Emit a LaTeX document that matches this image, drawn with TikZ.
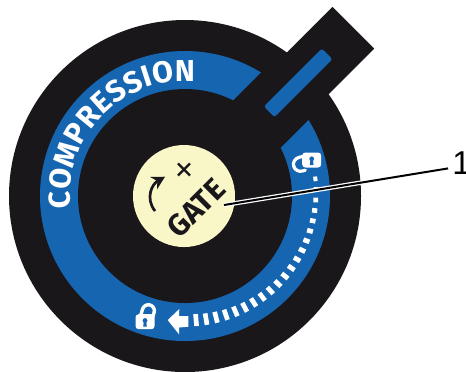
\documentclass[tikz,border=0pt]{standalone}
\usepackage{fontspec}
\setsansfont{Fira Sans}
\setmainfont{Liberation Sans}
\definecolor{dialblack}{RGB}{26,23,27}
\definecolor{dialblue}{RGB}{21,101,176}
\definecolor{dialcream}{RGB}{249,246,200}
\usetikzlibrary{arrows.meta,calc,decorations.text}
\tikzset{
  lockbody/.pic={
    \fill[white,rounded corners=0.9pt] (-0.095,-0.075) rectangle (0.095,0.075);
    \fill[dialblue] (0,0.012) circle (0.024);
    \fill[dialblue] (-0.012,0.01) -- (0.012,0.01) -- (0.018,-0.05) -- (-0.018,-0.05) -- cycle;
  },
  lockclosed/.pic={
    \pic {lockbody};
    \draw[white,line width=0.034cm] (-0.06,0.06) -- (-0.06,0.115) arc (180:0:0.06) -- (0.06,0.06);
  },
  lockopen/.pic={
    \pic {lockbody};
    \draw[white,line width=0.032cm,line cap=round] (0.06,0.06) -- (0.06,0.12) arc (0:180:0.07) -- (-0.08,0.09);
  },
  leadcase/.style={white,line width=0.045cm},
  leadline/.style={black,line width=0.02cm}
}
\begin{document}
\begin{tikzpicture}
  \useasboundingbox (-1.85,-1.75) rectangle (2.81,1.96);
  % Dial
  \fill[dialblack] (0,0) circle (1.76);
  \fill[dialblue] (0,0) circle (1.45);
  \fill[dialblack] (0,0) circle (1.07);
  % Handle
  \begin{scope}[rotate=45]
    \fill[dialblack] (0.5,-0.335) rectangle (1.55,0.335);
    \fill[dialblack] (1.4,-0.295) rectangle (2.38,0.295);
    \fill[dialblue,rounded corners=0.7pt] (1.19,-0.075) rectangle (2.01,0.075);
  \end{scope}
  % Gate
  \fill[dialcream] (-0.01,0) circle (0.51);
  \node[rotate=45,font=\sffamily\bfseries\fontsize{8.6}{9}\selectfont,text=dialblack,inner sep=0pt] (gatetext) at (0.11,-0.12) {GATE};
  \node[rotate=45,font=\fontsize{10}{10}\selectfont,text=dialblack,inner sep=0pt] (plus) at (0.01,0.25) {+};
  \draw[dialblack,line width=0.027cm,-{Stealth[length=0.13cm,width=0.14cm]}]
    (-0.30,-0.15) .. controls (-0.40,-0.02) and (-0.33,0.12) .. (-0.20,0.193);
  % Ring text
  \path[decorate,decoration={text along path,text align={fit to path},
      text={|\sffamily\bfseries\fontsize{8.6}{9}\selectfont\color{white}|COMPRESSION}}]
    (186:1.15) arc (186:85:1.15);
  % Ticks
  \foreach \i in {0,...,20}
    \draw[white,line width=0.047cm] ({7.5-4.62*\i}:{1.335-0.0015*\i}) -- ({7.5-4.62*\i}:{1.295-0.0055*\i});
  % Arrow and locks
  \fill[white] (-0.173,-1.24) -- (-0.057,-1.13) -- (-0.06,-1.20) -- (0.033,-1.20) -- (0.033,-1.307)
    -- (-0.06,-1.315) -- (-0.06,-1.383) -- cycle;
  \pic[rotate=-17] at (-0.40,-1.257) {lockclosed};
  \pic[rotate=106] at (1.267,0.36) {lockopen};
  % Callout
  \coordinate (gateend) at (0.39,-0.09);
  \node[font=\fontsize{9.4}{10}\selectfont,inner sep=1pt] (num) at (2.765,0.325) {1};
  \draw[leadcase] (num.200) -- (gateend);
  \draw[leadline] (num.200) -- (gateend);
\end{tikzpicture}
\end{document}
